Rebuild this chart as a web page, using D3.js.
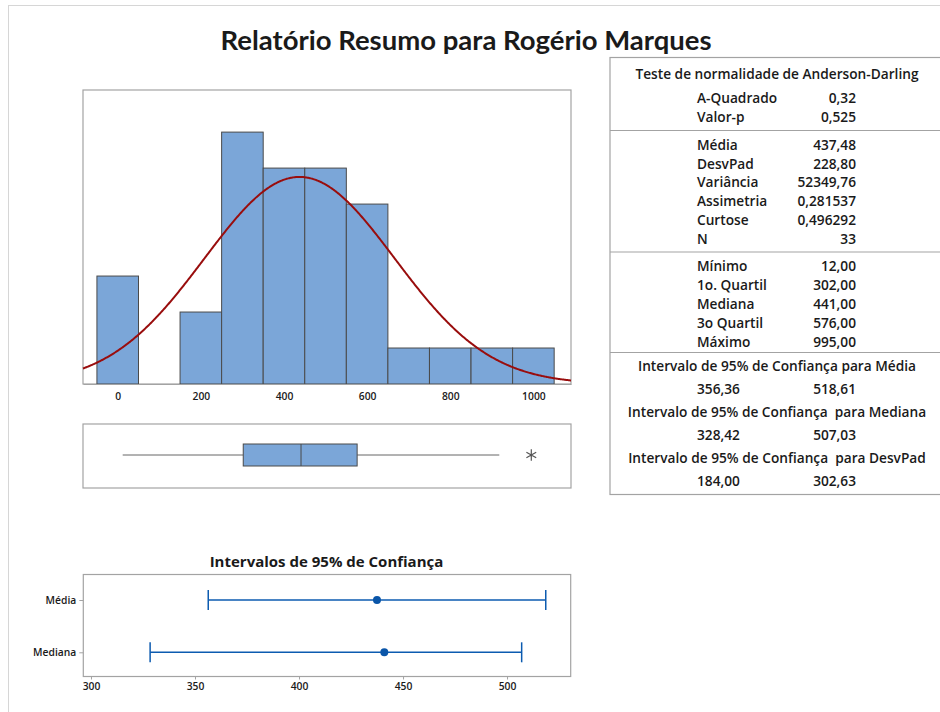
<!DOCTYPE html>
<html>
<head>
<meta charset="utf-8">
<script src="https://cdn.jsdelivr.net/npm/d3@7"></script>
<style>
  html, body { margin: 0; padding: 0; background: #fff; }
  svg { display: block; font-family: "Open Sans", "Noto Sans", sans-serif; }
</style>
</head>
<body>
<script>
// ---- data ----
const binCenters = [0, 100, 200, 300, 400, 500, 600, 700, 800, 900, 1000];
const binCounts  = [3, 0, 2, 7, 6, 6, 5, 1, 1, 1, 1];
const binWidth = 100;
const histTicks = [0, 200, 400, 600, 800, 1000];

const sampleN = 33;
const sampleMean = 437.48;
const sampleSd = 228.80;

// box plot summary: whisker ends, quartiles, outliers
const boxStats = { low: 12, q1: 302, median: 441, q3: 576, high: 918 };
const boxOutliers = [995];

// 95% confidence intervals
const ciCategories = ["Média", "Mediana"];
const ciEstimates = [437.48, 441.00];
const ciLower = [356.36, 328.42];
const ciUpper = [518.61, 507.03];
const ciTicks = [300, 350, 400, 450, 500];

// summary table
const adLabels = ["A-Quadrado", "Valor-p"];
const adValues = ["0,32", "0,525"];
const descLabels = ["Média", "DesvPad", "Variância", "Assimetria", "Curtose", "N"];
const descValues = ["437,48", "228,80", "52349,76", "0,281537", "0,496292", "33"];
const quartLabels = ["Mínimo", "1o. Quartil", "Mediana", "3o Quartil", "Máximo"];
const quartValues = ["12,00", "302,00", "441,00", "576,00", "995,00"];
const ciTitles = [
  "Intervalo de 95% de Confiança para Média",
  "Intervalo de 95% de Confiança  para Mediana",
  "Intervalo de 95% de Confiança  para DesvPad"
];
const ciLowText = ["356,36", "328,42", "184,00"];
const ciHighText = ["518,61", "507,03", "302,63"];

// ---- drawing ----
const W = 940, H = 712;
const svg = d3.select("body").append("svg").attr("width", W).attr("height", H);

const frameColor = "#a3a3a3";
const barFill = "#7ba6d8";
const darkStroke = "#4a4a4a";
const textColor = "#1a1a1a";
const ciBlue = "#0c5bb0";

// outer graph border
svg.append("rect")
  .attr("x", 8.5).attr("y", 5.5).attr("width", W + 20).attr("height", H + 20)
  .attr("fill", "none").attr("stroke", "#d6d6d6").attr("stroke-width", 1);

svg.append("text")
  .attr("x", 466).attr("y", 50)
  .attr("text-anchor", "middle")
  .attr("font-family", "Lato, 'Open Sans', sans-serif")
  .attr("font-size", 27.5).attr("font-weight", 700)
  .attr("fill", textColor)
  .text("Relatório Resumo para Rogério Marques");

// Histogram
const hx = d3.scaleLinear().domain([-83.5, 1090.5]).range([83, 571]);
const hy = d3.scaleLinear().domain([0, 8.17]).range([384, 90]);

const hist = svg.append("g");
hist.append("rect")
  .attr("x", hx.range()[0]).attr("y", hy.range()[1])
  .attr("width", hx.range()[1] - hx.range()[0])
  .attr("height", hy.range()[0] - hy.range()[1])
  .attr("fill", "none").attr("stroke", frameColor).attr("stroke-width", 1.2);

const bins = binCenters.map((c, i) => ({ c, n: binCounts[i] })).filter(d => d.n > 0);
hist.selectAll("rect.bar").data(bins).join("rect")
  .attr("class", "bar")
  .attr("x", d => hx(d.c - binWidth / 2))
  .attr("width", d => hx(d.c + binWidth / 2) - hx(d.c - binWidth / 2))
  .attr("y", d => hy(d.n))
  .attr("height", d => hy(0) - hy(d.n))
  .attr("fill", barFill).attr("stroke", darkStroke).attr("stroke-width", 1);

// fitted normal density, scaled to counts per bin
const [x0, x1] = hx.domain();
const curvePts = d3.range(x0, x1 + 0.5, 2).map(x => {
  const z = (x - sampleMean) / sampleSd;
  return [x, sampleN * binWidth * Math.exp(-0.5 * z * z) / (sampleSd * Math.sqrt(2 * Math.PI))];
});
hist.append("path")
  .attr("d", d3.line().x(d => hx(d[0])).y(d => hy(d[1]))(curvePts))
  .attr("fill", "none").attr("stroke", "#990d0d").attr("stroke-width", 2);

const hAxis = hist.append("g").attr("transform", `translate(0,${hy(0)})`)
  .call(d3.axisBottom(hx).tickValues(histTicks).tickFormat(d3.format("d")).tickSize(0).tickPadding(9));
hAxis.select(".domain").attr("stroke", frameColor).attr("stroke-width", 1.2);
hAxis.selectAll("text").attr("font-size", 10.3).attr("font-weight", 600)
  .attr("fill", textColor).attr("font-family", "'Open Sans', sans-serif");

// Box plot
const by = 455, boxH = 22;
const box = svg.append("g");
box.append("rect")
  .attr("x", 83).attr("y", 424).attr("width", 488).attr("height", 64)
  .attr("fill", "none").attr("stroke", frameColor).attr("stroke-width", 1.2);
box.append("line")
  .attr("x1", hx(boxStats.low)).attr("x2", hx(boxStats.q1))
  .attr("y1", by).attr("y2", by).attr("stroke", "#666").attr("stroke-width", 1);
box.append("line")
  .attr("x1", hx(boxStats.q3)).attr("x2", hx(boxStats.high))
  .attr("y1", by).attr("y2", by).attr("stroke", "#666").attr("stroke-width", 1);
box.append("rect")
  .attr("x", hx(boxStats.q1)).attr("y", by - boxH / 2)
  .attr("width", hx(boxStats.q3) - hx(boxStats.q1)).attr("height", boxH)
  .attr("fill", barFill).attr("stroke", darkStroke).attr("stroke-width", 1);
box.append("line")
  .attr("x1", hx(boxStats.median)).attr("x2", hx(boxStats.median))
  .attr("y1", by - boxH / 2).attr("y2", by + boxH / 2)
  .attr("stroke", darkStroke).attr("stroke-width", 1);
box.selectAll("path.outlier").data(boxOutliers).join("path")
  .attr("class", "outlier")
  .attr("transform", d => `translate(${hx(d)},${by})`)
  .attr("d", d3.symbol(d3.symbolAsterisk, 90))
  .attr("fill", "none").attr("stroke", "#555").attr("stroke-width", 1.2);

// Confidence intervals
svg.append("text")
  .attr("x", 326.5).attr("y", 566.5)
  .attr("text-anchor", "middle")
  .attr("font-size", 15).attr("font-weight", 700).attr("fill", textColor)
  .text("Intervalos de 95% de Confiança");

const cx = d3.scaleLinear().domain([296.3, 530.6]).range([83.3, 570.7]);
const cy = d3.scalePoint().domain(ciCategories).range([600, 652.3]);
const ci = svg.append("g");
ci.append("rect")
  .attr("x", cx.range()[0]).attr("y", 574.5)
  .attr("width", cx.range()[1] - cx.range()[0]).attr("height", 102)
  .attr("fill", "none").attr("stroke", frameColor).attr("stroke-width", 1.2);

const cxAxis = ci.append("g").attr("transform", "translate(0,676.5)")
  .call(d3.axisBottom(cx).tickValues(ciTicks).tickSize(3).tickPadding(3));
cxAxis.select(".domain").remove();
cxAxis.selectAll("line").attr("stroke", frameColor);
cxAxis.selectAll("text").attr("font-size", 10.3).attr("font-weight", 600)
  .attr("fill", textColor).attr("font-family", "'Open Sans', sans-serif");

const cyAxis = ci.append("g").attr("transform", `translate(${cx.range()[0]},0)`)
  .call(d3.axisLeft(cy).tickSize(4).tickPadding(3));
cyAxis.select(".domain").remove();
cyAxis.selectAll("line").attr("stroke", frameColor);
cyAxis.selectAll("text").attr("font-size", 10.3).attr("font-weight", 600)
  .attr("fill", textColor).attr("font-family", "'Open Sans', sans-serif");

const ciRows = ciCategories.map((c, i) => ({ c, est: ciEstimates[i], lo: ciLower[i], hi: ciUpper[i] }));
const rowG = ci.selectAll("g.row").data(ciRows).join("g").attr("class", "row");
rowG.append("line")
  .attr("x1", d => cx(d.lo)).attr("x2", d => cx(d.hi))
  .attr("y1", d => cy(d.c)).attr("y2", d => cy(d.c))
  .attr("stroke", ciBlue).attr("stroke-width", 1.5);
rowG.append("line")
  .attr("x1", d => cx(d.lo)).attr("x2", d => cx(d.lo))
  .attr("y1", d => cy(d.c) - 10).attr("y2", d => cy(d.c) + 10)
  .attr("stroke", ciBlue).attr("stroke-width", 1.5);
rowG.append("line")
  .attr("x1", d => cx(d.hi)).attr("x2", d => cx(d.hi))
  .attr("y1", d => cy(d.c) - 10).attr("y2", d => cy(d.c) + 10)
  .attr("stroke", ciBlue).attr("stroke-width", 1.5);
rowG.append("circle")
  .attr("cx", d => cx(d.est)).attr("cy", d => cy(d.c)).attr("r", 4)
  .attr("fill", "#0a55a8");

// Summary table
const tbl = svg.append("g").attr("font-size", 13.7).attr("font-weight", 600).attr("fill", textColor);
const tL = 610, tR = 946, tTop = 57.5, tBot = 494.5;
tbl.append("rect")
  .attr("x", tL).attr("y", tTop).attr("width", tR - tL).attr("height", tBot - tTop)
  .attr("fill", "none").attr("stroke", frameColor).attr("stroke-width", 1.2);
[130.5, 252, 352.5].forEach(y => {
  tbl.append("line").attr("x1", tL).attr("x2", tR).attr("y1", y).attr("y2", y)
    .attr("stroke", frameColor).attr("stroke-width", 1.2);
});

const labX = 697, valX = 856, midX = 777, base = 4.8;
tbl.append("text").attr("x", midX).attr("y", 74 + base).attr("text-anchor", "middle")
  .text("Teste de normalidade de Anderson-Darling");

function pairRows(labels, values, y0, step) {
  labels.forEach((l, i) => {
    const y = y0 + i * step + base;
    tbl.append("text").attr("x", labX).attr("y", y).text(l);
    tbl.append("text").attr("x", valX).attr("y", y).attr("text-anchor", "end").text(values[i]);
  });
}
pairRows(adLabels, adValues, 98, 18.8);
pairRows(descLabels, descValues, 145, 18.8);
pairRows(quartLabels, quartValues, 266.5, 18.8);

ciTitles.forEach((t, i) => {
  const yT = 366 + i * 46;
  tbl.append("text").attr("x", midX).attr("y", yT + base).attr("text-anchor", "middle")
    .attr("xml:space", "preserve").style("white-space", "pre").text(t);
  tbl.append("text").attr("x", labX).attr("y", yT + 23 + base).text(ciLowText[i]);
  tbl.append("text").attr("x", valX).attr("y", yT + 23 + base).attr("text-anchor", "end").text(ciHighText[i]);
});
</script>
</body>
</html>
